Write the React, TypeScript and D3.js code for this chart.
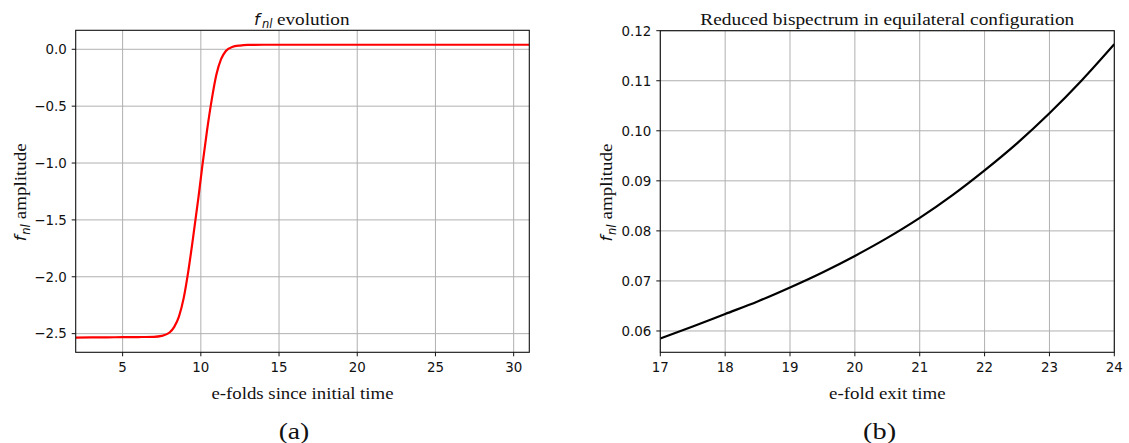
import React from "react";
import * as d3 from "d3";

// ---------- data ----------
const efoldsA = [2, 3, 4, 5, 6, 7, 7.5, 8, 8.3, 8.6, 8.9, 9.2, 9.5, 9.85, 10.1, 10.4, 10.7, 11.0, 11.3, 11.6, 12.0, 12.5, 13, 14, 16, 20, 25, 31];
const fnlA = [-2.535, -2.533, -2.532, -2.531, -2.53, -2.528, -2.52, -2.49, -2.44, -2.35, -2.19, -1.95, -1.66, -1.3, -1.02, -0.71, -0.44, -0.22, -0.085, -0.015, 0.02, 0.033, 0.038, 0.04, 0.04, 0.04, 0.04, 0.04];
const xTicksA = [5, 10, 15, 20, 25, 30];
const yTicksA = [0, -0.5, -1.0, -1.5, -2.0, -2.5];

const exitB = [17, 17.5, 18, 18.5, 19, 19.5, 20, 20.5, 21, 21.5, 22, 22.5, 23, 23.5, 24];
const bispB = [0.0585, 0.0609, 0.0634, 0.0659, 0.0687, 0.0717, 0.075, 0.0786, 0.0826, 0.0871, 0.0921, 0.0975, 0.1035, 0.1101, 0.1173];
const xTicksB = [17, 18, 19, 20, 21, 22, 23, 24];
const yTicksB = [0.06, 0.07, 0.08, 0.09, 0.1, 0.11, 0.12];

const SERIF = "'Liberation Serif', 'Times New Roman', serif";
const SANS = "'DejaVu Sans', sans-serif";
const GRID = "#b0b0b0";

type PanelProps = {
  xs: number[];
  ys: number[];
  xDomain: [number, number];
  yDomain: [number, number];
  box: { x0: number; x1: number; y0: number; y1: number };
  xTicks: number[];
  yTicks: number[];
  yFmt: (v: number) => string;
  color: string;
  xlabel: string;
  xlabelWidth: number;
  ylabelX: number;
  caption: string;
  captionX: number;
  captionW: number;
  title: React.ReactNode;
};

function Panel(p: PanelProps) {
  const { box } = p;
  const x = d3.scaleLinear().domain(p.xDomain).range([box.x0, box.x1]);
  const y = d3.scaleLinear().domain(p.yDomain).range([box.y1, box.y0]);
  const line = d3
    .line<number>()
    .x((_, i) => x(p.xs[i]))
    .y((d) => y(d))
    .curve(d3.curveMonotoneX);
  const cx = (box.x0 + box.x1) / 2;
  const cy = (box.y0 + box.y1) / 2;
  const clipId = "clip" + Math.round(box.x0);
  return (
    <g>
      <defs>
        <clipPath id={clipId}>
          <rect x={box.x0} y={box.y0} width={box.x1 - box.x0} height={box.y1 - box.y0} />
        </clipPath>
      </defs>
      {p.xTicks.map((t) => (
        <line key={"gx" + t} x1={x(t)} x2={x(t)} y1={box.y0} y2={box.y1} stroke={GRID} strokeWidth={1} />
      ))}
      {p.yTicks.map((t) => (
        <line key={"gy" + t} x1={box.x0} x2={box.x1} y1={y(t)} y2={y(t)} stroke={GRID} strokeWidth={1} />
      ))}
      <path d={line(p.ys) || ""} fill="none" stroke={p.color} strokeWidth={2.2} strokeLinejoin="round" clipPath={`url(#${clipId})`} />
      <rect x={box.x0} y={box.y0} width={box.x1 - box.x0} height={box.y1 - box.y0} fill="none" stroke="#111" strokeWidth={1.1} />
      {p.xTicks.map((t) => (
        <g key={"tx" + t}>
          <line x1={x(t)} x2={x(t)} y1={box.y1} y2={box.y1 + 4} stroke="#111" strokeWidth={1} />
          <text x={x(t)} y={box.y1 + 19.5} textAnchor="middle" fontFamily={SANS} fontSize={13.4} fill="#111">
            {String(t)}
          </text>
        </g>
      ))}
      {p.yTicks.map((t) => (
        <g key={"ty" + t}>
          <line x1={box.x0 - 4} x2={box.x0} y1={y(t)} y2={y(t)} stroke="#111" strokeWidth={1} />
          <text x={box.x0 - 9} y={y(t) + 4.8} textAnchor="end" fontFamily={SANS} fontSize={13.4} fill="#111">
            {p.yFmt(t)}
          </text>
        </g>
      ))}
      <text
        x={cx - p.xlabelWidth / 2}
        y={box.y1 + 46.5}
        fontFamily={SERIF}
        fontSize={17.5}
        fill="#111"
        textLength={p.xlabelWidth}
        lengthAdjust="spacingAndGlyphs"
      >
        {p.xlabel}
      </text>
      {p.title}
      <g transform={`translate(${p.ylabelX}, ${cy}) rotate(-90)`}>
        <text x={-50} y={5} fontFamily={SANS} fontStyle="italic" fontSize={16.5} fill="#111">
          f
        </text>
        <text x={-43.5} y={8.5} fontFamily={SANS} fontStyle="italic" fontSize={11.5} fill="#111">
          nl
        </text>
        <text x={-28} y={5} fontFamily={SERIF} fontSize={17.5} fill="#111" textLength={76} lengthAdjust="spacingAndGlyphs">
          amplitude
        </text>
      </g>
      <text
        x={p.captionX - p.captionW / 2}
        y={439}
        fontFamily={SERIF}
        fontSize={24}
        fill="#111"
        textLength={p.captionW}
        lengthAdjust="spacingAndGlyphs"
      >
        {p.caption}
      </text>
    </g>
  );
}

export default function App() {
  const boxA = { x0: 75.7, x1: 529.3, y0: 30.3, y1: 352.3 };
  const boxB = { x0: 660.3, x1: 1114.3, y0: 30.7, y1: 352.3 };
  const cxA = (boxA.x0 + boxA.x1) / 2;
  const cxB = (boxB.x0 + boxB.x1) / 2;
  const fmtA = (v: number) => (v < 0 ? "\u2212" : "") + Math.abs(v).toFixed(1);
  const fmtB = (v: number) => v.toFixed(2);

  const titleA = (
    <g>
      <text x={cxA - 48.5} y={24.5} fontFamily={SANS} fontStyle="italic" fontSize={16.5} fill="#111">
        f
      </text>
      <text x={cxA - 40.5} y={28} fontFamily={SANS} fontStyle="italic" fontSize={11.5} fill="#111">
        nl
      </text>
      <text x={cxA - 25.5} y={24.5} fontFamily={SERIF} fontSize={17.5} fill="#111" textLength={72.5} lengthAdjust="spacingAndGlyphs">
        evolution
      </text>
    </g>
  );
  const titleBText = "Reduced bispectrum in equilateral configuration";
  const titleB = (
    <text x={cxB - 187} y={25} fontFamily={SERIF} fontSize={17.5} fill="#111" textLength={374} lengthAdjust="spacingAndGlyphs">
      {titleBText}
    </text>
  );

  return (
    <svg
      width={1129}
      height={443}
      style={{ position: "absolute", left: 0, top: 0, background: "#fff" }}
    >
      <rect width={1129} height={443} fill="#fff" />
      <Panel
        xs={efoldsA}
        ys={fnlA}
        xDomain={[2, 31]}
        yDomain={[-2.664, 0.167]}
        box={boxA}
        xTicks={xTicksA}
        yTicks={yTicksA}
        yFmt={fmtA}
        color="#ff0000"
        xlabel="e-folds since initial time"
        xlabelWidth={182}
        ylabelX={21}
        caption="(a)"
        captionX={294}
        captionW={30.7}
        title={titleA}
      />
      <Panel
        xs={exitB}
        ys={bispB}
        xDomain={[17, 24]}
        yDomain={[0.05574, 0.12]}
        box={boxB}
        xTicks={xTicksB}
        yTicks={yTicksB}
        yFmt={fmtB}
        color="#000000"
        xlabel="e-fold exit time"
        xlabelWidth={116.5}
        ylabelX={607}
        caption="(b)"
        captionX={879.6}
        captionW={33}
        title={titleB}
      />
    </svg>
  );
}
